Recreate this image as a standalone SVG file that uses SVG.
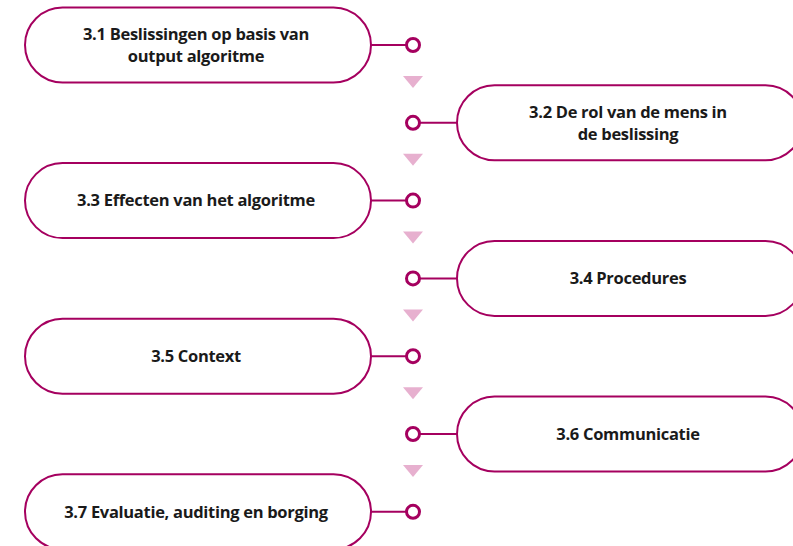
<svg xmlns="http://www.w3.org/2000/svg" width="793" height="546" viewBox="0 0 793 546">
<style>
.node{fill:#fff;stroke:#a5005f;stroke-width:2}
.lbl{font-family:"Open Sans","Liberation Sans",sans-serif;font-weight:700;font-size:16.5px;fill:#1a1a1a;text-anchor:middle;letter-spacing:-0.3px}
.conn{stroke:#a5005f;stroke-width:2;fill:none}
.dot{fill:#fff;stroke:#a5005f;stroke-width:3}
.tri{fill:#e7b0cf}
</style>
<rect width="793" height="546" fill="#fff"/>
<g id="connectors">
<line class="conn" x1="371" y1="45" x2="406" y2="45"/>
<line class="conn" x1="420" y1="122.8" x2="457" y2="122.8"/>
<line class="conn" x1="371" y1="200.6" x2="406" y2="200.6"/>
<line class="conn" x1="420" y1="278.4" x2="457" y2="278.4"/>
<line class="conn" x1="371" y1="356.2" x2="406" y2="356.2"/>
<line class="conn" x1="420" y1="434" x2="457" y2="434"/>
<line class="conn" x1="371" y1="511.8" x2="406" y2="511.8"/>
<circle class="dot" cx="413" cy="45" r="6.5"/>
<circle class="dot" cx="413" cy="122.8" r="6.5"/>
<circle class="dot" cx="413" cy="200.6" r="6.5"/>
<circle class="dot" cx="413" cy="278.4" r="6.5"/>
<circle class="dot" cx="413" cy="356.2" r="6.5"/>
<circle class="dot" cx="413" cy="434" r="6.5"/>
<circle class="dot" cx="413" cy="511.8" r="6.5"/>
<polygon class="tri" points="403,76 423,76 413,88"/>
<polygon class="tri" points="403,153.8 423,153.8 413,165.8"/>
<polygon class="tri" points="403,231.6 423,231.6 413,243.6"/>
<polygon class="tri" points="403,309.4 423,309.4 413,321.4"/>
<polygon class="tri" points="403,387.2 423,387.2 413,399.2"/>
<polygon class="tri" points="403,465 423,465 413,477"/>
</g>
<g id="n1"><rect class="node" x="25" y="7.5" width="346" height="75" rx="37.5"/><text class="lbl" x="196" y="40">3.1 Beslissingen op basis van</text><text class="lbl" x="196" y="62">output algoritme</text></g>
<g id="n2"><rect class="node" x="457" y="85.3" width="346" height="75" rx="37.5"/><text class="lbl" x="628" y="118">3.2 De rol van de mens in</text><text class="lbl" x="628" y="140">de beslissing</text></g>
<g id="n3"><rect class="node" x="25" y="163.1" width="346" height="75" rx="37.5"/><text class="lbl" x="196" y="206">3.3 Effecten van het algoritme</text></g>
<g id="n4"><rect class="node" x="457" y="240.9" width="346" height="75" rx="37.5"/><text class="lbl" x="628" y="284">3.4 Procedures</text></g>
<g id="n5"><rect class="node" x="25" y="318.7" width="346" height="75" rx="37.5"/><text class="lbl" x="196" y="362">3.5 Context</text></g>
<g id="n6"><rect class="node" x="457" y="396.5" width="346" height="75" rx="37.5"/><text class="lbl" x="628" y="440">3.6 Communicatie</text></g>
<g id="n7"><rect class="node" x="25" y="474.3" width="346" height="75" rx="37.5"/><text class="lbl" x="196" y="518">3.7 Evaluatie, auditing en borging</text></g>
</svg>
